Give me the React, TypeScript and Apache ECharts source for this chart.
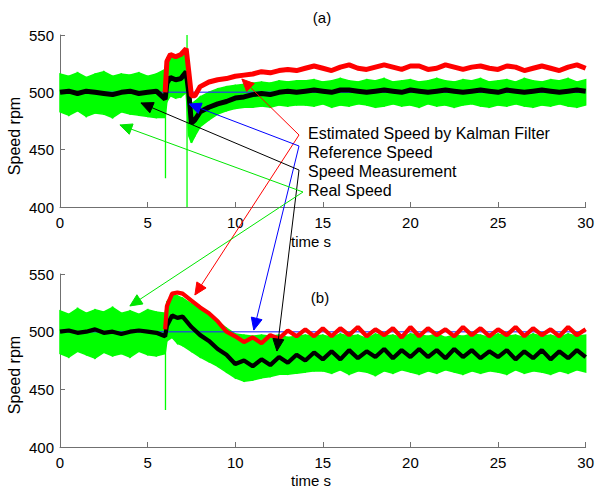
import React, { useEffect, useRef } from "react";
import * as echarts from "echarts";

// ---------- Panel (a) data ----------
const timeA = [0, 0.5, 1, 1.5, 2, 2.5, 3, 3.5, 4, 4.5, 5, 5.5, 6, 6.1, 6.3, 6.6, 6.9, 7.2, 7.35, 7.5, 7.7,
  8, 8.5, 9, 9.5, 10, 10.5, 11, 11.5, 12, 12.5, 13, 13.5, 14, 14.5, 15, 15.5, 16, 16.5, 17, 17.5, 18, 18.5,
  19, 19.5, 20, 20.5, 21, 21.5, 22, 22.5, 23, 23.5, 24, 24.5, 25, 25.5, 26, 26.5, 27, 27.5, 28, 28.5, 29, 29.5, 30];
const estimatedA = [null, null, null, null, null, null, null, null, null, null, null, null, 500, 527, 533, 531, 533, 538, 518, 497, 497,
  505, 509, 511, 512, 514, 515, 516, 518, 517, 519, 520, 519, 521, 523, 521, 519, 522, 524, 521, 520, 522, 524,
  522, 520, 523, 523, 520, 521, 524, 522, 520, 522, 523, 521, 520, 523, 522, 519, 521, 523, 521, 519, 522, 524, 521];
const measuredA = [500, 501, 499, 501, 500, 499, 498, 500, 501, 499, 500, 501, 494, 508, 513, 511, 512, 518, 500, 473, 476,
  483, 487, 490, 492, 495, 496, 498, 499, 498, 500, 501, 500, 501, 502, 501, 500, 502, 502, 501, 500, 501, 502,
  501, 500, 502, 501, 500, 501, 502, 501, 500, 501, 502, 501, 500, 502, 501, 500, 501, 502, 501, 500, 501, 502, 501];
const realHiA = [516, 514, 517, 513, 516, 518, 514, 516, 515, 517, 514, 516, 520, 530, 533, 531, 534, 536, 505, 490, 492,
  496, 500, 503, 505, 506, 507, 508, 509, 508, 510, 509, 510, 510, 511, 509, 510, 512, 510, 509, 511, 510, 512,
  509, 510, 511, 509, 510, 512, 510, 509, 511, 510, 512, 509, 510, 511, 509, 512, 510, 509, 511, 510, 512, 509, 511];
const realLoA = [483, 480, 484, 479, 482, 481, 478, 483, 481, 480, 479, 478, 478, 492, 497, 495, 496, 500, 462, 456, 462,
  470, 476, 481, 484, 486, 487, 487, 488, 487, 489, 488, 489, 489, 488, 490, 487, 489, 488, 490, 489, 487, 488,
  490, 488, 489, 487, 490, 488, 489, 487, 489, 490, 488, 487, 489, 488, 490, 488, 487, 489, 488, 490, 488, 487, 489];
const spikeTimeA = [6.02, 7.25];
const spikeLowA = [425, 400];
const spikeHighA = [500, 550];

// ---------- Panel (b) data ----------
const timeB = [0, 0.5, 1, 1.5, 2, 2.5, 3, 3.5, 4, 4.5, 5, 5.5, 6, 6.1, 6.4, 6.7, 7, 7.5,
  8, 8.5, 9, 9.5, 10, 10.5, 11, 11.5, 12, 12.5, 13, 13.5, 14, 14.5, 15, 15.5, 16, 16.5, 17, 17.5, 18, 18.5,
  19, 19.5, 20, 20.5, 21, 21.5, 22, 22.5, 23, 23.5, 24, 24.5, 25, 25.5, 26, 26.5, 27, 27.5, 28, 28.5, 29, 29.5, 30];
const estimatedB = [null, null, null, null, null, null, null, null, null, null, null, null, 502, 522, 533, 534, 533, 527,
  521, 516, 509, 500, 496, 491, 495, 490, 497, 494, 501, 496, 502, 496, 503, 496, 503, 497, 504, 496, 502, 497,
  503, 495, 504, 496, 503, 497, 502, 496, 504, 497, 503, 496, 502, 497, 504, 496, 503, 497, 502, 496, 504, 497, 502];
const measuredB = [500, 501, 499, 500, 502, 499, 500, 498, 500, 501, 500, 499, 496, 505, 514, 512, 513, 504,
  497, 492, 485, 480, 472, 475, 470, 476, 471, 478, 473, 480, 475, 482, 476, 483, 476, 484, 477, 483, 478, 485,
  477, 484, 478, 485, 478, 484, 477, 485, 478, 484, 477, 483, 478, 484, 476, 483, 477, 484, 476, 483, 477, 484, 478];
const realHiB = [518, 515, 520, 516, 519, 517, 521, 516, 518, 515, 519, 517, 516, 526, 532, 531, 529, 524,
  520, 515, 509, 503, 498, 497, 496, 497, 496, 497, 495, 496, 497, 496, 497, 495, 498, 496, 497, 494, 498, 496,
  497, 495, 498, 497, 496, 498, 495, 497, 496, 498, 497, 495, 498, 496, 497, 495, 498, 496, 497, 495, 498, 496, 497];
const realLoB = [481, 478, 483, 480, 477, 482, 479, 481, 478, 483, 480, 479, 481, 492, 495, 490, 488, 483,
  478, 474, 470, 465, 460, 457, 458, 460, 461, 463, 463, 464, 465, 466, 466, 464, 467, 463, 466, 465, 462, 466,
  464, 467, 465, 463, 466, 464, 467, 465, 463, 466, 464, 466, 465, 463, 467, 464, 466, 465, 463, 466, 464, 467, 465];
const spikeTimeB = [6.02];
const spikeLowB = [432];
const spikeHighB = [495];

// ---------- Reference speed ----------
const refTime = [0, 30];
const refSpeed = [500, 500];

// ---------- Axis ticks / texts ----------
const yMin = 400;
const yMax = 550;
const yStep = 50;
const xMin = 0;
const xMax = 30;
const xStep = 5;
const panelTitles = ["(a)", "(b)"];
const legendLabels = ["Estimated Speed by Kalman Filter", "Reference Speed", "Speed Measurement", "Real Speed"];
const xAxisTitle = "time s";
const yAxisTitle = "Speed rpm";

// annotation arrows: tips in data coordinates, order: estimated, reference, measured, real
const arrowTipsA = [[10.38, 511.6], [7.36, 489.8], [4.62, 490.7], [3.42, 471.5]];
const arrowTipsB = [[7.7, 531.8], [11.06, 501.4], [12.38, 483.2], [3.99, 522.3]];

// ---------- Styles / layout ----------
const FONT = '"Liberation Sans", Arial, sans-serif';
const arrowColors = ["#ff0000", "#0000ff", "#000000", "#00e600"];
const arrowVertices = [[299, 135], [299, 146], [299, 170], [303, 192]];
const grids = [
  { left: 60, top: 35, width: 526, height: 172 },
  { left: 60, top: 274, width: 526, height: 173 },
];

function zip(t: number[], v: (number | null)[]) {
  const out: number[][] = [];
  t.forEach((x, i) => {
    const y = v[i];
    if (y !== null && y !== undefined) out.push([x, y]);
  });
  return out;
}

function bandSeries(gridIndex: number, t: number[], lo: number[], hi: number[]) {
  return {
    type: "custom",
    xAxisIndex: gridIndex,
    yAxisIndex: gridIndex,
    silent: true,
    z: 1,
    data: t.map((x, i) => [x, lo[i], hi[i]]),
    encode: { x: 0, y: [1, 2] },
    renderItem: (params: any, api: any) => {
      const i = params.dataIndex;
      if (i >= t.length - 1) return null;
      const p1 = api.coord([t[i], lo[i]]);
      const p2 = api.coord([t[i + 1], lo[i + 1]]);
      const p3 = api.coord([t[i + 1], hi[i + 1]]);
      const p4 = api.coord([t[i], hi[i]]);
      return {
        type: "polygon",
        shape: { points: [p1, p2, p3, p4] },
        style: { fill: "#00ff00", stroke: "#00ff00", lineWidth: 1.5 },
      };
    },
  };
}

function lineSeries(gridIndex: number, data: number[][], color: string, width: number, z: number, opacity = 1) {
  return {
    type: "line",
    xAxisIndex: gridIndex,
    yAxisIndex: gridIndex,
    data,
    showSymbol: false,
    symbol: "none",
    silent: true,
    z,
    lineStyle: { color, width, opacity },
  };
}

function panelSeries(
  gi: number, t: number[], est: (number | null)[], meas: number[], hi: number[], lo: number[],
  sT: number[], sLo: number[], sHi: number[], w: number
) {
  const s: any[] = [bandSeries(gi, t, lo, hi)];
  sT.forEach((x, k) => {
    s.push(lineSeries(gi, [[x, sHi[k]], [x, sLo[k]]], "#00ff00", 1.3, 2));
  });
  s.push(lineSeries(gi, zip(refTime, refSpeed), "#2a2aff", 1.5, 3, 0.75));
  s.push(lineSeries(gi, zip(t, meas), "#000000", w, 4));
  s.push(lineSeries(gi, zip(t, est), "#ff0000", w, 5));
  return s;
}

const axisLineColor = "#707070";

function xAxisOf(gi: number) {
  return {
    type: "value",
    gridIndex: gi,
    min: xMin,
    max: xMax,
    interval: xStep,
    axisLine: { show: true, onZero: false, lineStyle: { color: axisLineColor, width: 1 } },
    axisTick: { show: true, inside: true, length: 5, lineStyle: { color: axisLineColor } },
    axisLabel: { color: "#000", fontSize: 15, fontFamily: FONT, margin: 8 },
    splitLine: { show: false },
  };
}

function yAxisOf(gi: number) {
  return {
    type: "value",
    gridIndex: gi,
    min: yMin,
    max: yMax,
    interval: yStep,
    axisLine: { show: true, onZero: false, lineStyle: { color: axisLineColor, width: 1 } },
    axisTick: { show: true, inside: true, length: 5, lineStyle: { color: axisLineColor } },
    axisLabel: { color: "#000", fontSize: 15, fontFamily: FONT, margin: 6 },
    splitLine: { show: false },
  };
}

function arrowHead(tip: number[], from: number[], color: string) {
  const dx = tip[0] - from[0];
  const dy = tip[1] - from[1];
  const len = Math.sqrt(dx * dx + dy * dy) || 1;
  const ux = dx / len;
  const uy = dy / len;
  const L = 12;
  const W = 5.5;
  const bx = tip[0] - ux * L;
  const by = tip[1] - uy * L;
  return {
    type: "polygon",
    z: 100,
    silent: true,
    shape: { points: [tip, [bx - uy * W, by + ux * W], [bx + uy * W, by - ux * W]] },
    style: { fill: color, stroke: color, lineWidth: 1 },
  };
}

export default function App() {
  const ref = useRef<HTMLDivElement>(null);
  useEffect(() => {
    if (!ref.current) return;
    const chart = echarts.init(ref.current, undefined, { renderer: "svg" });
    chart.setOption({
      animation: false,
      backgroundColor: "#ffffff",
      grid: grids.map((g) => ({ ...g, containLabel: false })),
      xAxis: [xAxisOf(0), xAxisOf(1)],
      yAxis: [yAxisOf(0), yAxisOf(1)],
      series: [
        ...panelSeries(0, timeA, estimatedA, measuredA, realHiA, realLoA, spikeTimeA, spikeLowA, spikeHighA, 5),
        ...panelSeries(1, timeB, estimatedB, measuredB, realHiB, realLoB, spikeTimeB, spikeLowB, spikeHighB, 4.2),
      ],
    });

    const graphics: any[] = [];
    graphics.push({
      type: "text", x: 322, y: 17, z: 100, silent: true,
      style: { text: panelTitles[0], font: `15px ${FONT}`, fill: "#000", textAlign: "center", textVerticalAlign: "middle" },
    });
    graphics.push({
      type: "text", x: 320, y: 297, z: 100, silent: true,
      style: { text: panelTitles[1], font: `15px ${FONT}`, fill: "#000", textAlign: "center", textVerticalAlign: "middle" },
    });
    [241, 480].forEach((y) => {
      graphics.push({
        type: "text", x: 291, y, z: 100, silent: true,
        style: { text: xAxisTitle, font: `15px ${FONT}`, fill: "#000", textAlign: "left", textVerticalAlign: "middle" },
      });
    });
    [136, 375].forEach((y) => {
      graphics.push({
        type: "text", x: 14, y, z: 100, silent: true, rotation: Math.PI / 2,
        style: { text: yAxisTitle, font: `16px ${FONT}`, fill: "#000", textAlign: "center", textVerticalAlign: "middle" },
      });
    });
    const legendY = [133, 152, 171, 190];
    legendLabels.forEach((lab, k) => {
      graphics.push({
        type: "text", x: 308, y: legendY[k], z: 100, silent: true,
        style: { text: lab, font: `16px ${FONT}`, fill: "#000", textAlign: "left", textVerticalAlign: "middle" },
      });
    });
    arrowColors.forEach((color, k) => {
      const v = arrowVertices[k];
      const tA = chart.convertToPixel({ gridIndex: 0 } as any, arrowTipsA[k]) as number[];
      const tB = chart.convertToPixel({ gridIndex: 1 } as any, arrowTipsB[k]) as number[];
      graphics.push({
        type: "polyline", z: 99, silent: true,
        shape: { points: [tA, v, tB] },
        style: { stroke: color, lineWidth: 1, fill: null },
      });
      graphics.push(arrowHead(tA, v, color));
      graphics.push(arrowHead(tB, v, color));
    });
    chart.setOption({ graphic: graphics });

    return () => chart.dispose();
  }, []);
  return (
    <div
      ref={ref}
      style={{ position: "absolute", left: 0, top: 0, width: 597, height: 491, background: "#fff" }}
    />
  );
}
